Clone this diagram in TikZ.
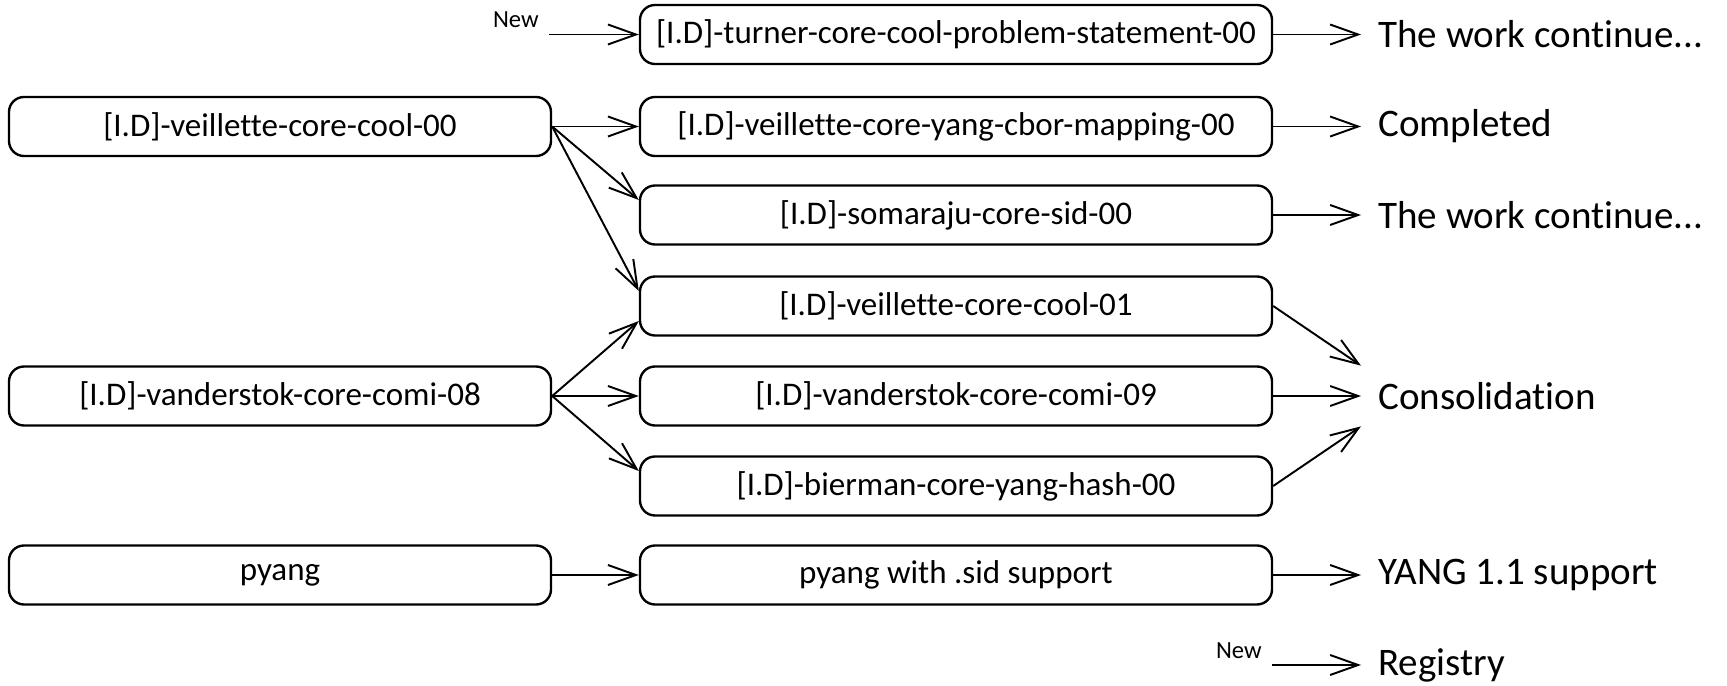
\documentclass[tikz,border=0pt]{standalone}
\usepackage{fontspec}
\setmainfont[Ligatures=NoCommon]{Carlito}
\usetikzlibrary{arrows.meta,positioning}

\tikzset{
  doc/.style={draw, rounded corners=0.3cm, line width=1.35pt, minimum height=1.18cm, inner xsep=0.1cm, font=\fontsize{18.8}{22}\selectfont},
  srcdoc/.style={doc, minimum width=10.84cm},
  nextdoc/.style={doc, minimum width=12.64cm},
  result/.style={anchor=west, inner xsep=0.34cm, inner ysep=0pt, minimum height=1.2cm, font=\fontsize{22.2}{26}\selectfont},
  newlbl/.style={anchor=south east, inner xsep=0.2cm, inner ysep=0.12cm, font=\fontsize{14}{16}\selectfont},
  link/.style={-{Straight Barb[length=0.56cm,width=0.4cm]}, line width=1.1pt},
}

\begin{document}
\begin{tikzpicture}
            \useasboundingbox (0,0) rectangle (34.54,-13.72);
            % source drafts
            \node[srcdoc] (cool00) at (5.6,-2.53) {[I.D]-veillette-core-cool-00};
            \node[srcdoc] (comi08) at (5.6,-7.92) {[I.D]-vanderstok-core-comi-08};
            \node[srcdoc] (pyang) at (5.6,-11.50) {pyang};
            % next drafts
            \node[nextdoc] (turner) at (19.12,-0.69) {[I.D]-turner-core-cool-problem-statement-00};
            \node[nextdoc] (cbor) at (19.12,-2.53) {[I.D]-veillette-core-yang-cbor-mapping-00};
            \node[nextdoc] (sid) at (19.12,-4.30) {[I.D]-somaraju-core-sid-00};
            \node[nextdoc] (cool01) at (19.12,-6.12) {[I.D]-veillette-core-cool-01};
            \node[nextdoc] (comi09) at (19.12,-7.92) {[I.D]-vanderstok-core-comi-09};
            \node[nextdoc] (hash) at (19.12,-9.72) {[I.D]-bierman-core-yang-hash-00};
            \node[nextdoc] (pyangsid) at (19.12,-11.50) {pyang with .sid support};
            % outcomes
            \node[result] (cont1) at (27.22,-0.69) {The work continue...};
            \node[result] (done) at (27.22,-2.53) {Completed};
            \node[result] (cont2) at (27.22,-4.30) {The work continue...};
            \node[result] (cons) at (27.22,-7.92) {Consolidation};
            \node[result] (yang11) at (27.22,-11.50) {YANG 1.1 support};
            \node[result] (reg) at (27.22,-13.30) {Registry};
            % new items
            \coordinate (new1) at (10.98,-0.69);
            \coordinate (new2) at (25.44,-13.30);
            \node[newlbl] (newlbl1) at (new1) {New};
            \node[newlbl] (newlbl2) at (new2) {New};
            \draw[link] (new1) -- (turner.west);
            \draw[link] (new2) -- (reg.west);
            % left to middle
            \draw[link] (cool00.east) -- (cbor.west);
            \draw[link] (cool00.east) -- ([yshift=0.3cm]sid.west);
            \draw[link] (cool00.east) -- ([yshift=0.3cm]cool01.west);
            \draw[link] (comi08.east) -- ([yshift=-0.3cm]cool01.west);
            \draw[link] (comi08.east) -- (comi09.west);
            \draw[link] (comi08.east) -- ([yshift=0.3cm]hash.west);
            \draw[link] (pyang.east) -- (pyangsid.west);
            % middle to outcomes
            \draw[link] (turner.east) -- (cont1.west);
            \draw[link] (cbor.east) -- (done.west);
            \draw[link] (sid.east) -- (cont2.west);
            \draw[link] (cool01.east) -- (cons.north west);
            \draw[link] (comi09.east) -- (cons.west);
            \draw[link] (hash.east) -- (cons.south west);
            \draw[link] (pyangsid.east) -- (yang11.west);
        \end{tikzpicture}
\end{document}
